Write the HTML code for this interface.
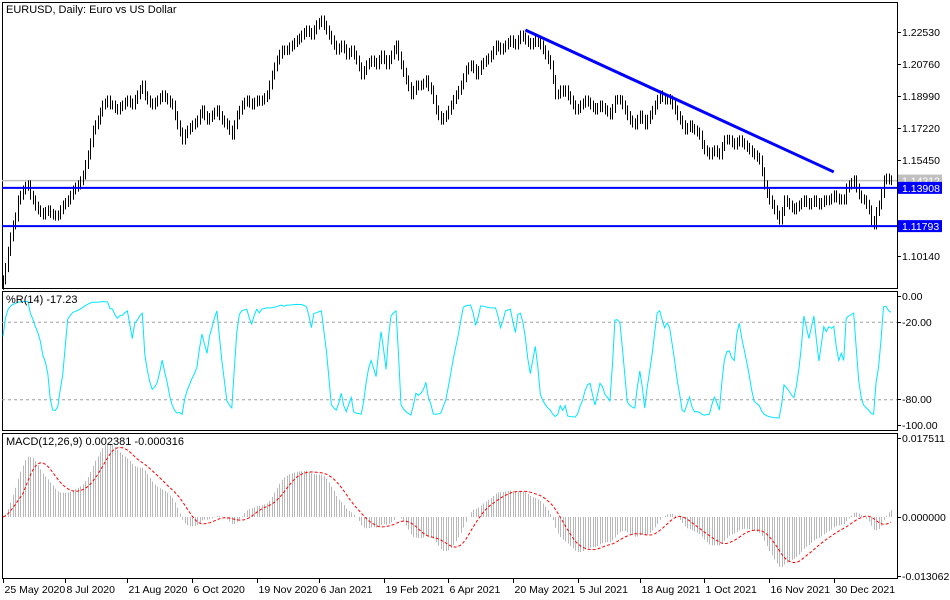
<!DOCTYPE html>
<html><head><meta charset="utf-8">
<style>
html,body{margin:0;padding:0;background:#fff;}
svg{display:block;font-family:"Liberation Sans",sans-serif;}
</style></head>
<body>
<svg id="chart" width="950" height="600" viewBox="0 0 950 600" xmlns="http://www.w3.org/2000/svg">
<rect x="0" y="0" width="950" height="600" fill="#fff"/>
<g id="frame"></g>
<g id="main"></g>
<g id="wpr"></g>
<g id="macd"></g>
<g id="axes"></g>
</svg>
<script>
// daily closes in pips (price * 10000)
const closePips = [10882,10950,11040,11120,
11186,11230,11324,11350,11379,11400,11407,11350,
11324,11290,11269,11255,11241,11260,11269,11250,11241,11235,11241,11270,11296,11310,11324,11350,11379,11395,11407,11430,11462,11520,11573,11640,11711,11740,11766,11810,
11849,11860,11877,11850,11849,11830,11822,11840,11849,11865,11877,11860,11849,11880,11905,11935,11960,11900,11877,11860,11849,11865,11877,11890,11905,11890,11877,11860,11849,11790,
11739,11700,11656,11690,11711,11725,11739,11750,11766,11800,11822,11790,11766,11780,11794,11810,11822,11790,11766,11750,11739,11710,11683,11740,11794,11820,11849,11865,11877,11860,
11849,11865,11877,11870,11877,11890,11905,11960,12015,12060,12098,12130,12153,12150,12153,12170,12181,12195,12209,12220,12236,12250,12264,12250,12236,12265,12292,12305,12319,12290,
12264,12235,12209,12180,12153,12165,12181,12160,12126,12140,12153,12125,12098,12060,12015,12040,12071,12085,12098,12085,12071,12100,12126,12100,12071,12100,12126,12155,12181,12120,
12071,12030,11988,11950,11905,11930,11960,11955,11960,11970,11988,11950,11933,11880,11822,11790,11766,11780,11794,11820,11849,11880,11905,11930,11960,12000,12043,12060,12071,12050,
12015,12040,12071,12085,12098,12110,12126,12150,12181,12170,12153,12165,12181,12195,12209,12190,12181,12210,12236,12225,12209,12195,12181,12195,12209,12195,12181,12155,12126,12100,
12071,11990,11905,11910,11933,11920,11933,11900,11877,11850,11822,11830,11849,11860,11877,11865,11849,11835,11822,11835,11849,11835,11822,11810,11794,11830,11877,11880,11877,11850,
11822,11790,11766,11750,11739,11770,11794,11770,11739,11770,11794,11820,11849,11880,11905,11890,11877,11885,11877,11850,11822,11790,11766,11740,11711,11725,11739,11720,11711,11700,
11683,11630,11601,11590,11573,11590,11601,11585,11573,11620,11656,11660,11656,11640,11628,11645,11656,11640,11628,11615,11601,11585,11573,11560,11545,11480,11407,11360,11324,11300,
11269,11240,11213,11260,11324,11310,11296,11280,11269,11285,11296,11310,11324,11310,11296,11310,11324,11310,11296,11310,11324,11320,11324,11335,11352,11335,11324,11330,11324,11390,
11407,11420,11435,11390,11352,11330,11324,11300,11269,11210,11186,11260,11296,11360,11435,11445,11435,11431];
const priceTicks = [1.22530,1.20760,1.18990,1.17220,1.15450,1.10140];
const levelLines = [1.13908,1.11793];
const currentPrice = 1.14312;
const trendStart = [210, 1.2264];   // [bar index, price]
const trendEnd = [334, 1.1479];
const wprTicks = [0,-20,-80,-100];
const macdTicks = [0.017511,0,-0.013062];
const dateLabels = ["25 May 2020","8 Jul 2020","21 Aug 2020","6 Oct 2020","19 Nov 2020","6 Jan 2021","19 Feb 2021","6 Apr 2021","20 May 2021","5 Jul 2021","18 Aug 2021","1 Oct 2021","16 Nov 2021","30 Dec 2021"];
const dateIndex = [0,25,50,76,102,127,153,179,205,231,256,282,308,334];

const NS="http://www.w3.org/2000/svg";
function mk(tag,attrs,parent,text){const e=document.createElementNS(NS,tag);for(const k in attrs)e.setAttribute(k,attrs[k]);if(text!==undefined)e.textContent=text;parent.appendChild(e);return e;}
const L=2,R=897;
const n=closePips.length;
const step=(891-3)/(n-1);
const xAt=i=>3+i*step;
const yP=p=>32+(1.22530-p)/0.0177*32;
const yW=v=>296+(-v)/100*129;
const yM=v=>517-v*(79/0.017511);

const closes=closePips.map(v=>v/10000);
const opens=closes.map((c,i)=>i?closes[i-1]:c-0.003);
const highs=closes.map((c,i)=>Math.max(c,opens[i])+0.0025);
const lows=closes.map((c,i)=>Math.min(c,opens[i])-0.0025);

const frame=document.getElementById('frame');
[[2,2,288],[2,291,430],[2,433,578]].forEach((p,k)=>{
  const r=mk('rect',{x:L+0.5,y:p[1]+0.5,width:R-L,height:p[2]-p[1],fill:'none',stroke:'#000','stroke-width':1},frame);
  
  
});

const main=document.getElementById('main');
const t=mk('text',{x:6,y:13,'font-size':11,fill:'#000'},main,'EURUSD, Daily:  Euro vs US Dollar');


const cl=mk('line',{x1:L,x2:R,y1:yP(currentPrice),y2:yP(currentPrice),stroke:'#c0c0c0','stroke-width':1.5},main);


for(let i=0;i<n;i++){
  const x=Math.round(xAt(i))+0.5;
  const b=mk('line',{x1:x,x2:x,y1:yP(highs[i]),y2:yP(lows[i]),stroke:'#000','stroke-width':1},main);
  
  
}
levelLines.forEach(v=>{
  const l=mk('line',{x1:L,x2:R,y1:yP(v),y2:yP(v),stroke:'#0000ff','stroke-width':2},main);
  
  
});
const tl=mk('line',{x1:xAt(trendStart[0]),y1:yP(trendStart[1]),x2:xAt(trendEnd[0]),y2:yP(trendEnd[1]),stroke:'#0000ff','stroke-width':3},main);



const wpr=[];
for(let i=0;i<n;i++){
  const s=Math.max(0,i-13);let hh=-1e9,ll=1e9;
  for(let j=s;j<=i;j++){hh=Math.max(hh,highs[j]);ll=Math.min(ll,lows[j]);}
  wpr.push(-100*(hh-closes[i])/(hh-ll));
}
const wg=document.getElementById('wpr');
[-20,-80].forEach(v=>{
  const l=mk('line',{x1:L,x2:R,y1:yW(v)+0.5,y2:yW(v)+0.5,stroke:'#a0a0a0','stroke-dasharray':'3,3','stroke-width':1},wg);
  
  
});
const wp=mk('polyline',{points:wpr.map((v,i)=>xAt(i).toFixed(1)+','+yW(v).toFixed(1)).join(' '),fill:'none',stroke:'#00e5ff','stroke-width':1},wg);


const wt=mk('text',{x:6,y:303,'font-size':11,fill:'#000'},wg,'%R(14) -17.23');



function ema(a,p){const k=2/(p+1);const o=[];a.forEach((v,i)=>o.push(i?v*k+o[i-1]*(1-k):v));return o;}
const e12=ema(closes,12),e26=ema(closes,26);
const macdMain=e12.map((v,i)=>v-e26[i]);
const sig=[];macdMain.forEach((v,i)=>{const s=Math.max(0,i-8);let sm=0;for(let j=s;j<=i;j++)sm+=macdMain[j];sig.push(sm/(i-s+1));});
const mg=document.getElementById('macd');
for(let i=0;i<n;i++){
  const x=Math.round(xAt(i))+0.5;
  const h=mk('line',{x1:x,x2:x,y1:yM(0),y2:yM(macdMain[i]),stroke:'#b8b8b8','stroke-width':1},mg);
  
  
}
const sp=mk('polyline',{points:sig.map((v,i)=>xAt(i).toFixed(1)+','+yM(v).toFixed(1)).join(' '),fill:'none',stroke:'#ff0000','stroke-dasharray':'3,2','stroke-width':1},mg);


const mt=mk('text',{x:6,y:445,'font-size':11,fill:'#000'},mg,'MACD(12,26,9) 0.002381 -0.000316');



const ax=document.getElementById('axes');
function rtick(y,label,name){
  const l=mk('line',{x1:R,x2:R+4,y1:Math.round(y)+0.5,y2:Math.round(y)+0.5,stroke:'#000'},ax);
  
  
  const tx=mk('text',{x:R+5,y:y+4,'font-size':10.5,fill:'#000'},ax,label);
  
  
}
priceTicks.forEach(v=>rtick(yP(v),v.toFixed(5),'price-axis'));
wprTicks.forEach(v=>rtick(yW(v),v.toFixed(2),'wpr-axis'));
macdTicks.forEach(v=>rtick(yM(v),v.toFixed(6),'macd-axis'));
function tag(v,bg,name){
  const y=yP(v);
  const r=mk('rect',{x:R+1,y:y-6,width:44,height:12,fill:bg},ax);
  
  
  const tx=mk('text',{x:R+5,y:y+4,'font-size':10.5,fill:'#fff'},ax,v.toFixed(5));
  
  
}
tag(currentPrice,'#c0c0c0','current-price');
levelLines.forEach(v=>tag(v,'#0000ff','level-price'));
dateLabels.forEach((d,k)=>{
  const x=Math.round(xAt(dateIndex[k]))+0.5;
  const l=mk('line',{x1:x,x2:x,y1:578,y2:583,stroke:'#000'},ax);
  
  
  const tx=mk('text',{x:x+1,y:593,'font-size':10.5,fill:'#000'},ax,d);
  
  
});
</script>
</body></html>
